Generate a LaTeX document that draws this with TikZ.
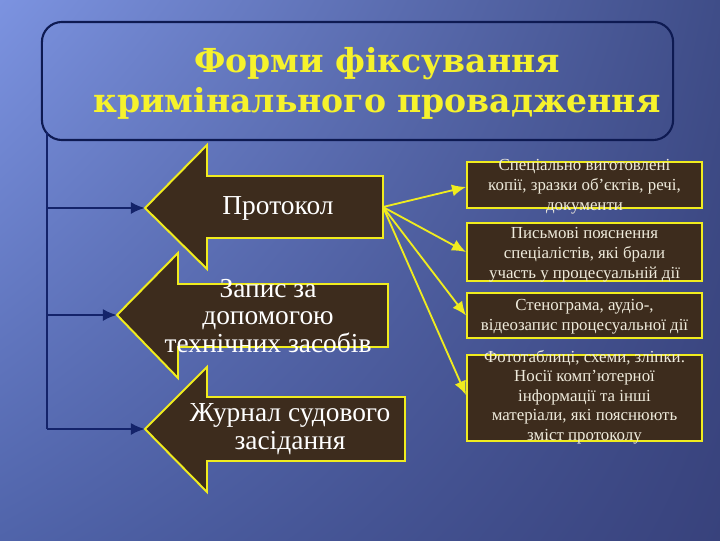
\documentclass[tikz,border=0pt]{standalone}
\usepackage{fontspec}
\setmainfont{Liberation Serif}
\newfontfamily\headfont{DejaVu Serif}
\usetikzlibrary{arrows.meta,positioning,shadings}

\definecolor{bgul}{HTML}{7C93E0}
\definecolor{bgur}{HTML}{3F4D88}
\definecolor{bgll}{HTML}{5064AA}
\definecolor{bglr}{HTML}{38427C}
\definecolor{navy}{HTML}{14236A}
\definecolor{frame}{HTML}{0E1A52}
\definecolor{wood}{HTML}{3D2C1D}
\definecolor{gold}{HTML}{F0EC1E}
\definecolor{headgold}{HTML}{F6F22C}
\definecolor{cream}{HTML}{EFEBDC}

\tikzset{
  woodarrow/.style={fill=wood, draw=gold, line width=1.4pt, line join=miter},
  woodbox/.style={draw=gold, fill=wood, line width=1.4pt, minimum width=5.875cm, inner sep=0pt},
  boxtext/.style={text=cream, align=center, font=\fontsize{12}{14.2}\selectfont},
  arrowtext/.style={text=white, align=center, font=\fontsize{19.5}{19.5}\selectfont},
  feed/.style={draw=navy, line width=1.8pt, -{Latex[length=3.5mm,width=3mm]}},
  branch/.style={draw=gold, line width=1.3pt, -{Latex[length=3.5mm,width=3mm]}},
}

\begin{document}
\begin{tikzpicture}[x=0.025cm, y=-0.025cm]
% background
\shade[upper left=bgul, upper right=bgur, lower left=bgll, lower right=bglr] (0,0) rectangle (720,540);
\useasboundingbox (0,0) rectangle (720,540);

% title
\node[draw=frame, line width=1.5pt, rounded corners=0.5cm, minimum width=15.775cm, minimum height=2.95cm] (title) at (357.5,81) {};
\node[text=headgold, align=center, font=\headfont\bfseries\fontsize{23.5}{28.5}\selectfont] (titletext) at (377,83)
  {Форми фіксування\\кримінального провадження};

% forms (block arrows)
\draw[woodarrow] (145,208) -- (207,145) -- (207,176) -- (383,176) -- (383,238) -- (207,238) -- (207,269) -- cycle;
\coordinate (prot-tip) at (145,208);
\coordinate (prot-end) at (383,207);
\node[arrowtext] (prot) at (278,208) {Протокол};

\draw[woodarrow] (117,315) -- (178,253) -- (178,284) -- (388,284) -- (388,347) -- (178,347) -- (178,378) -- cycle;
\coordinate (rec-tip) at (117,315);
\node[arrowtext] (rec) at (268,316) {Запис за\\допомогою\\технічних засобів};

\draw[woodarrow] (145,429) -- (207,367) -- (207,397) -- (405,397) -- (405,461) -- (207,461) -- (207,492) -- cycle;
\coordinate (jour-tip) at (145,429);
\node[arrowtext, font=\fontsize{19.5}{20}\selectfont] (jour) at (290,429) {Журнал судового\\засідання};

% trunk
\coordinate (trunk) at (47,132);
\draw[navy, line width=1.8pt] (trunk) -- (trunk |- jour-tip);
\draw[feed] (trunk |- prot-tip) -- (prot-tip);
\draw[feed] (trunk |- rec-tip) -- (rec-tip);
\draw[feed] (trunk |- jour-tip) -- (jour-tip);

% appendices of the protocol
\node[woodbox, minimum height=1.15cm] (b1) at (584.5,185) {};
\node[boxtext] (t1) at (584.5,187) {Спеціально виготовлені\\копії, зразки об'єктів, речі,\\документи};

\node[woodbox, minimum height=1.45cm] (b2) at (584.5,252) {};
\node[boxtext] (t2) at (584.5,255) {Письмові пояснення\\спеціалістів, які брали\\участь у процесуальній дії};

\node[woodbox, minimum height=1.125cm] (b3) at (584.5,315.5) {};
\node[boxtext] (t3) at (584.5,317) {Стенограма, аудіо-,\\відеозапис процесуальної дії};

\node[woodbox, minimum height=2.15cm] (b4) at (584.5,398) {};
\node[boxtext, font=\fontsize{12}{13.9}\selectfont] (t4) at (584.5,397) {Фототаблиці, схеми, зліпки.\\Носії комп'ютерної\\інформації та інші\\матеріали, які пояснюють\\зміст протоколу};

\draw[branch] (prot-end) -- ([yshift=-0.05cm]b1.west);
\draw[branch] (prot-end) -- (b2.west);
\draw[branch] (prot-end) -- (b3.west);
\draw[branch] (prot-end) -- ([yshift=0.075cm]b4.west);
\end{tikzpicture}
\end{document}
